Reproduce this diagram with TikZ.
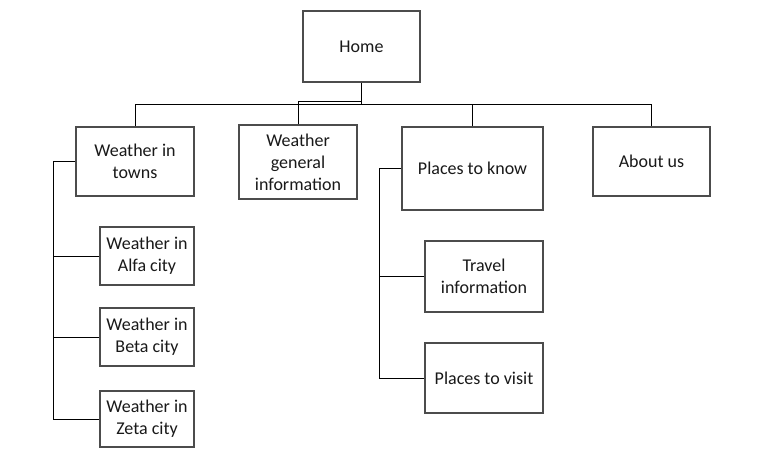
\documentclass[tikz,border=0pt]{standalone}
\usepackage{fontspec}
\setmainfont{Carlito}
\begin{document}
\begin{tikzpicture}[x=1pt,y=-1pt,
  box/.style={draw=black!70, line width=1.2pt, fill=white, align=center, inner sep=2pt,
    font=\fontsize{18}{22}\selectfont, text=black!90},
  link/.style={draw=black, line width=1pt}]
\useasboundingbox (0,0) rectangle (767,468);
\node[box, minimum width=117pt, minimum height=71pt] (home) at (361.5,46.5) {Home};
\node[box, minimum width=118pt, minimum height=69pt] (towns) at (135,161.5) {Weather in\\towns};
\node[box, minimum width=118pt, minimum height=74pt] (general) at (298,162) {Weather\\general\\information};
\node[box, minimum width=141pt, minimum height=83pt] (know) at (472.5,168.5) {Places to know};
\node[box, minimum width=117pt, minimum height=69pt] (about) at (651.5,161.5) {About us};
\node[box, minimum width=94pt, minimum height=58pt] (alfa) at (147,256) {Weather in\\Alfa city};
\node[box, minimum width=94pt, minimum height=58pt] (beta) at (147,337) {Weather in\\Beta city};
\node[box, minimum width=94pt, minimum height=56pt] (zeta) at (147,419) {Weather in\\Zeta city};
\node[box, minimum width=118pt, minimum height=71pt] (travel) at (484,276.5) {Travel\\information};
\node[box, minimum width=118pt, minimum height=70pt] (visit) at (484,378) {Places to visit};
\coordinate (bus) at (0,104.3);
\coordinate (kink) at (0,101.7);
\coordinate (tl) at (53,0);
\coordinate (kl) at (379,0);
\draw[link] (home.south) -- (home.south |- bus);
\draw[link] (towns.north) -- (towns.north |- bus) -- (about.north |- bus) -- (about.north);
\draw[link] (know.north) -- (know.north |- bus);
\draw[link] (general.north) -- (general.north |- kink) -- (home.south |- kink);
\draw[link] (towns.west) -- (towns.west -| tl) -- (zeta.west -| tl) -- (zeta.west);
\draw[link] (alfa.west) -- (alfa.west -| tl);
\draw[link] (beta.west) -- (beta.west -| tl);
\draw[link] (know.west) -- (know.west -| kl) -- (visit.west -| kl) -- (visit.west);
\draw[link] (travel.west) -- (travel.west -| kl);
\end{tikzpicture}
\end{document}
